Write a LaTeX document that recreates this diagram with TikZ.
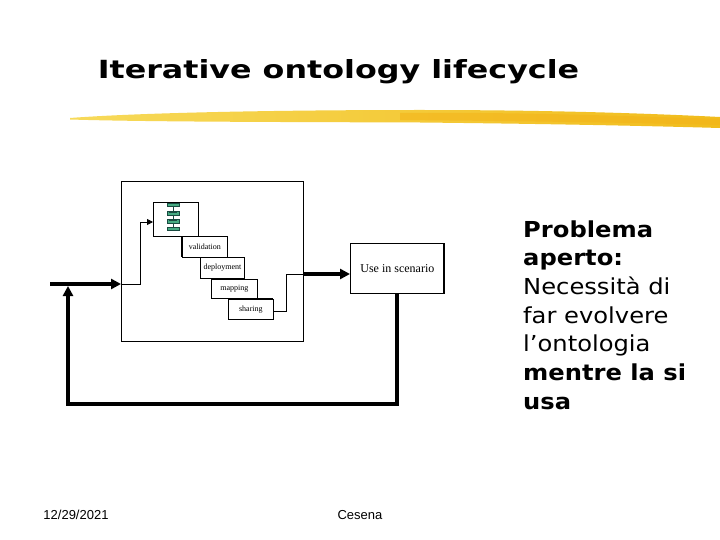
\documentclass[tikz,border=0pt]{standalone}
\usepackage{graphicx}
\usepackage{fontspec}
\setmainfont{DejaVu Sans}
\newfontfamily\footfont{Liberation Sans}
\newfontfamily\boxfont{Liberation Serif}
\usetikzlibrary{arrows.meta}
\definecolor{brushA}{RGB}{247,218,90}
\definecolor{brushB}{RGB}{241,188,28}
\definecolor{iconDark}{RGB}{25,75,65}
\definecolor{iconMint}{RGB}{70,170,130}
\tikzset{
  box/.style={draw=black, line width=0.8pt, fill=white, inner sep=0pt, font=\boxfont\fontsize{8}{9}\selectfont},
  thinline/.style={draw=black, line width=0.8pt},
  thickline/.style={draw=black, line width=3.8pt},
  tip/.style={-{Triangle[length=10pt,width=10pt]}},
  smalltip/.style={-{Triangle[length=6pt,width=6pt]}},
  bar/.style={draw=iconDark, fill=iconMint, line width=0.8pt},
}
\begin{document}
\begin{tikzpicture}[x=1pt,y=-1pt]
\useasboundingbox (0,0) rectangle (720,540);
\fill[white] (0,0) rectangle (720,540);
% title
\node[font=\bfseries\fontsize{25}{30}\selectfont, anchor=base, inner sep=0pt] (title) at (338.5,79) {\scalebox{1.27}[1]{Iterative ontology lifecycle}};
% brush stroke
\shade[left color=brushA, right color=brushB]
  (70,118) .. controls (150,112) and (300,110) .. (420,110)
  .. controls (560,110) and (660,114) .. (720,117)
  -- (720,128) .. controls (650,126) and (560,124) .. (420,122.5)
  .. controls (300,122) and (150,122) .. (70,119.5) -- cycle;
\fill[brushB!85!orange, opacity=0.55] (400,113) .. controls (500,112) and (600,115) .. (720,119) -- (720,125) .. controls (600,122) and (500,121) .. (400,120) -- cycle;
% big box
\node[draw=black, line width=0.8pt, minimum width=182pt, minimum height=160pt, anchor=north west] (big) at (121,181) {};
% icon box
\node[box, minimum width=45pt, minimum height=34pt, anchor=north west] (icon) at (153,202) {};
\draw[iconDark, line width=0.8pt] (173,204) -- (173,229);
\draw[bar] (167,203) rectangle (179,206);
\draw[bar] (167,211) rectangle (179,215);
\draw[bar] (167,219) rectangle (179,223);
\draw[bar] (167,227) rectangle (179,230);
\draw[iconDark, line width=1pt] (169,213) -- (177,213);
\draw[iconDark, line width=1pt] (169,221) -- (177,221);
% step boxes
\node[box, minimum width=45pt, minimum height=21pt, anchor=north west] (valid) at (182,236) {validation};
\draw[line width=2pt] (182,236) -- (182,257);
\node[box, minimum width=44pt, minimum height=21pt, anchor=north west] (deploy) at (200,257) {deployment};
\node[box, minimum width=46pt, minimum height=19pt, anchor=north west] (mapp) at (211,279) {mapping};
\node[box, minimum width=45pt, minimum height=20pt, anchor=north west] (shar) at (228,299) {sharing};
\draw[line width=2pt] (228,299) -- (273,299);
% use in scenario
\node[box, minimum width=94pt, minimum height=50pt, anchor=north west, font=\boxfont\fontsize{12}{14}\selectfont] (use) at (350,243) {Use in scenario};
\draw[line width=1.6pt] (444,243) -- (444,293);
% coordinates
\coordinate (inL) at (121,284);
\coordinate (inStart) at (50,284);
\coordinate (outR) at (303,274);
\coordinate (loopBL) at (68,404);
\coordinate (loopBR) at (397,404);
\coordinate (loopTop) at (68,286);
% connectors
\draw[thickline, tip] (inStart) -- (inL);
\draw[thinline, smalltip] (inL) -- (140,284) -- (140,222) -- (icon.west |- 0,222);
\draw[thinline] (shar.east |- 0,311) -- (286,311) -- (286,274) -- (outR);
\draw[thickline, tip] (outR) -- (use.west |- 0,274);
\draw[thickline, tip] (use.south -| loopBR) -- (loopBR) -- (loopBL) -- (loopTop);
% right text
\node[anchor=base west, inner sep=0pt, font=\fontsize{22}{28.7}\selectfont] (note) at (523,237)
  {\scalebox{1.1}[1]{\begin{tabular}[t]{@{}l@{}}\textbf{Problema}\\ \textbf{aperto:}\\ Necessità di\\ far evolvere\\ l’ontologia\\ \textbf{mentre la si}\\ \textbf{usa}\end{tabular}}};
% footer
\node[font=\footfont\fontsize{13}{15}\selectfont] (date) at (76,515) {12/29/2021};
\node[font=\footfont\fontsize{13}{15}\selectfont] (place) at (360,515) {Cesena};
\end{tikzpicture}
\end{document}
